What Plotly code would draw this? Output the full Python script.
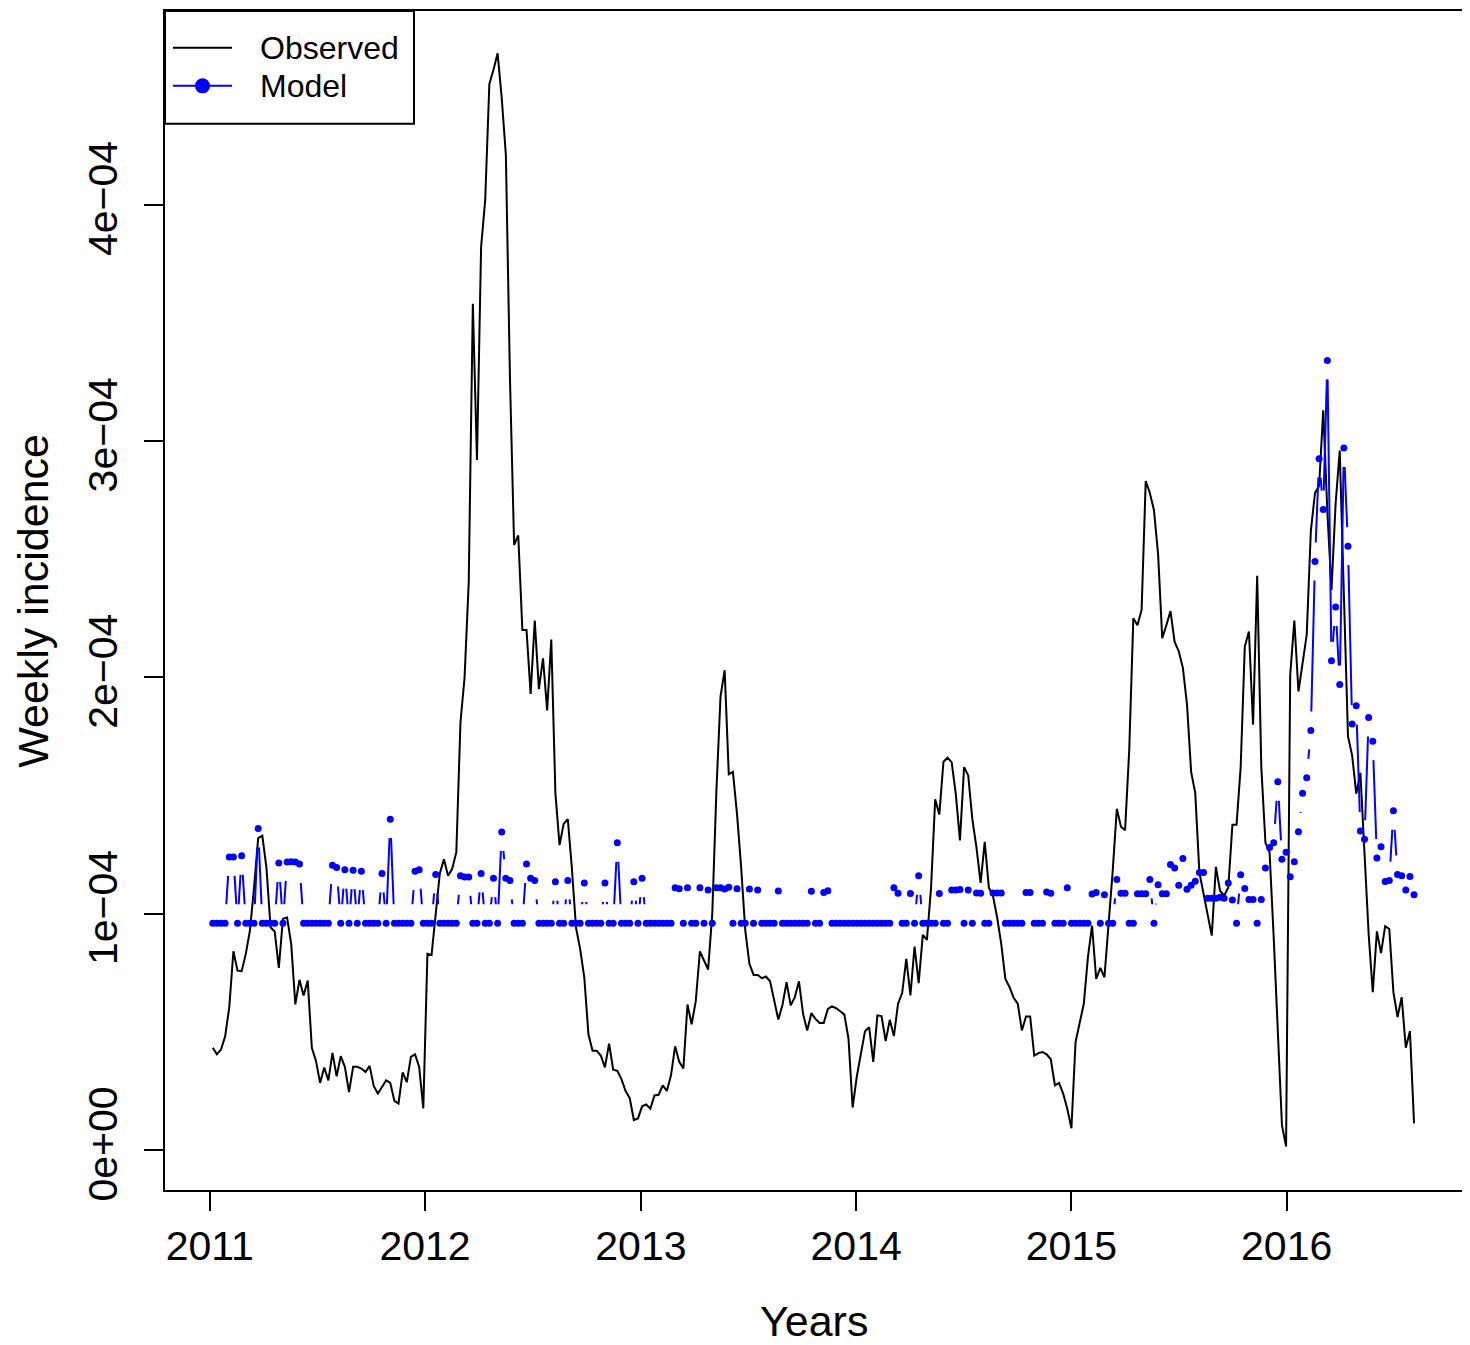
import pandas as pd
import plotly.graph_objects as go

# weekly incidence in units of 1e-5, first week 2011-01-06
start_week = '2011-01-06'
unit = 1e-5

observed = [
    4.33, 4.05, 4.25, 4.81, 6.05, 8.41, 7.59, 7.57, 8.3, 9.28,
    11.1, 13.2, 13.3, 11.95, 9.42, 9.25, 7.71, 9.79, 9.84, 8.72,
    6.16, 7.2, 6.54, 7.17, 4.33, 3.77, 2.84, 3.49, 2.95, 4.11,
    3.12, 3.97, 3.52, 2.45, 3.52, 3.52, 3.45, 3.3, 3.56, 2.7,
    2.39, 2.7, 2.95, 2.84, 2.08, 1.97, 3.29, 2.87, 3.94, 4.05,
    3.52, 1.76,
    8.3, 8.25, 10.1, 11.7, 12.3, 11.6, 11.9, 12.6, 18.1, 20.0,
    24.0, 35.8, 29.2, 38.2, 40.2, 45.1, 45.7, 46.4, 44.5, 42.1,
    32.6, 25.6, 26.0, 22.0, 22.0, 19.3, 22.4, 19.5, 20.8, 18.6,
    21.6, 15.1, 12.9, 13.8, 14.0, 11.9, 9.4, 8.5, 7.3, 4.9,
    4.2, 4.2, 4.0, 3.5, 4.5, 3.4, 3.35, 3.0, 2.5, 2.2,
    1.27,
    1.34, 1.85, 1.93, 1.75, 2.31, 2.34, 2.74, 2.5, 3.16, 4.39,
    3.73, 3.45, 6.16, 5.32, 6.3, 8.4, 8.02, 7.64, 9.99, 15.2,
    19.2, 20.3, 15.9, 16.0, 14.2, 11.95, 9.28, 7.88, 7.41, 7.41,
    7.27, 7.34, 7.14, 6.33, 5.52, 6.14, 7.1, 6.12, 6.47, 7.14,
    5.76, 5.06, 5.79, 5.55, 5.38, 5.38, 5.97, 6.08, 6.0, 5.87,
    5.73, 4.71, 1.8, 3.1, 4.0,
    5.03, 5.2, 3.73, 5.7, 5.67, 4.61, 5.51, 4.82, 6.19, 6.64,
    8.09, 6.54, 8.61, 7.06, 9.1, 8.89, 11.1, 14.84, 14.2, 16.43,
    16.6, 16.4, 15.05, 13.1, 16.2, 15.85, 14.0, 12.8, 11.3, 13.04,
    11.1, 10.76, 9.85, 8.72, 7.24, 6.9, 6.44, 6.19, 5.06, 5.65,
    5.65, 4.0, 4.1, 4.15, 4.05, 3.84, 2.74, 2.84, 2.39, 1.75,
    0.92, 4.57,
    5.35, 6.19, 8.16, 9.49, 7.24, 7.71, 7.31, 9.49, 11.8, 14.44,
    13.68, 13.53, 16.9, 22.5, 22.2, 22.85, 28.3, 27.8, 27.07, 25.2,
    21.66, 22.2, 22.8, 21.5, 21.1, 20.4, 18.85, 16.0, 15.1, 11.74,
    10.83, 9.99, 9.07, 11.98, 10.97, 10.76, 11.11, 13.76, 13.76, 16.2,
    21.3, 21.94, 18.0, 24.3, 16.2, 13.0, 12.59,
    9.0, 4.9, 1.05, 0.15, 20.1, 22.4, 19.4, 20.6, 21.8, 26.2,
    27.8, 28.1, 31.3, 27.0, 23.7, 27.35, 29.6, 23.5, 17.5, 16.7,
    15.08, 15.96, 12.7, 9.14, 6.68, 9.25, 8.33, 9.47, 9.35, 6.68,
    5.63, 6.47, 4.33, 5.03, 1.13,
]

B = 9.6  # model floor value
model = [
    B, B, B, B, 12.4, 12.4, B, 12.45, B, B,
    B, 13.6, B, B, B, B, 12.14, B, 12.19, 12.2,
    12.19, 12.1, B, B, B, B, B, B, B, 12.05,
    11.95, B, 11.86, B, 11.84, B, 11.8, B, B, B,
    B, 11.7, B, 14.0, B, B, B, B, B, 11.8,
    11.86, B, B, B, 11.66, B, B, B, B, B,
    11.6, 11.55, 11.55, B, B, 11.7, B, B, 11.5, B,
    13.46, 11.5, 11.4, B, B, B, 12.1, 11.5, 11.4, B,
    B, B, B, 11.35, B, B, 11.4, B, B, B,
    11.3, B, B, B, B, 11.3, B, B, 13.0, B,
    B, B, 11.35, B, 11.5, B, B, B, B, B,
    B, B, 11.1, 11.05, B, 11.1, B, B, 11.1, B,
    11.0, B, 11.1, 11.1, 11.04, 11.12, B, 11.06, B, B,
    11.04, B, 11.0, B, B, B, B, 10.96, B, B,
    B, B, B, B, B, 10.95, B, B, 10.9, 10.97,
    B, B, B, B, B, B, B, B, B, B,
    B, B, B, B, B, 11.1, 10.86, B, B, 10.85,
    B, 11.6, B, B, B, B, 10.85, B, B, 11.0,
    11.0, 11.02, B, 11.0, B, 10.87, 10.86, B, B, 10.87,
    10.87, 10.87, B, B, B, B, B, 10.9, 10.9, B,
    B, B, 10.92, 10.86, B, B, B, 11.1, B, B,
    B, B, B, 10.83, 10.9, B, 10.8, B, B, 11.45,
    10.86, 10.86, B, B, 10.84, 10.84, 10.84, 11.45, B, 11.22,
    10.84, 10.84, 12.08, 11.93, 11.2, 12.33, 11.03, 11.2, 11.37, 11.74,
    11.74, 10.65, 10.65, 10.65, 10.7, 10.65, 11.3, 10.58, B, 11.65,
    11.07, 10.6, 10.6, B, 10.6, 11.93, 12.8, 13.0, 15.58, 12.3,
    12.6, 11.56, 12.2, 13.47, 15.1, 15.75, 17.75, 24.9, 29.25, 27.1,
    33.4, 20.7, 22.97, 19.7, 29.7, 25.55, 18.03, 18.8, 13.5, 13.15,
    18.3, 17.3, 12.36, 12.83, 11.36, 11.4, 14.35, 11.66, 11.6, 11.0,
    11.57, 10.8,
]

year_ticks = ['2011', '2012', '2013', '2014', '2015', '2016']
y_tickvals = [0, 1e-4, 2e-4, 3e-4, 4e-4]
y_ticktext = ['0e+00', '1e\u221204', '2e\u221204', '3e\u221204', '4e\u221204']
legend_names = ['Observed', 'Model']

weeks = pd.date_range(start_week, periods=len(observed), freq='7D')
obs_y = [v * unit for v in observed]
mod_y = [v * unit for v in model]

# page body has an 8px margin, so the figure is a bit smaller than the window
W, H = 1462, 1337
margin = dict(l=157, r=7, t=1, b=155)
x_range = [pd.Timestamp('2010-10-17'), pd.Timestamp('2016-10-26')]
y_range = [-1.69e-5, 48.19e-5]
FONT = 'Liberation Sans, Arial, Helvetica, sans-serif'
plot_w = W - margin['l'] - margin['r']
plot_h = H - margin['t'] - margin['b']


def gapped_line(dates, values, gap_px=19):
    # mimic R type="b": line segments stop short of each point
    day = pd.Timedelta(days=1)
    px_day = plot_w / ((x_range[1] - x_range[0]) / day)
    px_unit = plot_h / (y_range[1] - y_range[0])
    xs, ys = [], []
    for i in range(len(values) - 1):
        d0, d1 = dates[i], dates[i + 1]
        v0, v1 = values[i], values[i + 1]
        ddays = (d1 - d0) / day
        dx = ddays * px_day
        dy = (v1 - v0) * px_unit
        L = (dx ** 2 + dy ** 2) ** 0.5
        if L <= 2 * gap_px:
            continue
        f = gap_px / L
        xs += [d0 + day * (ddays * f), d0 + day * (ddays * (1 - f)), None]
        ys += [v0 + (v1 - v0) * f, v0 + (v1 - v0) * (1 - f), None]
    return xs, ys


fig = go.Figure()

fig.add_trace(go.Scatter(x=weeks, y=obs_y, mode='lines', name=legend_names[0],
                         showlegend=False, line=dict(color='black', width=2)))
gx, gy = gapped_line(weeks, mod_y)
fig.add_trace(go.Scatter(x=gx, y=gy, mode='lines', showlegend=False,
                         line=dict(color='#0000ff', width=2)))
fig.add_trace(go.Scatter(x=weeks, y=mod_y, mode='markers', name=legend_names[1],
                         showlegend=False, marker=dict(color='#0000ff', size=7)))

axis_common = dict(showgrid=False, zeroline=False, showline=True, mirror=True,
                   linecolor='black', linewidth=2, ticks='outside', ticklen=19,
                   tickwidth=2, tickcolor='black',
                   tickfont=dict(family=FONT, size=41, color='black'))

fig.update_xaxes(type='date', range=x_range,
                 tickvals=[pd.Timestamp(y + '-01-01') for y in year_ticks],
                 ticktext=year_ticks, **axis_common)
fig.update_yaxes(range=y_range, tickvals=y_tickvals, ticktext=y_ticktext,
                 tickangle=-90, ticklabelstandoff=11, **axis_common)

fig.add_annotation(text='Years', xref='paper', yref='paper', x=0.5, y=-0.1109,
                   showarrow=False, xanchor='center', yanchor='middle',
                   font=dict(family=FONT, size=43, color='black'))
fig.add_annotation(text='Weekly incidence', xref='paper', yref='paper', x=-0.1022, y=0.5,
                   showarrow=False, xanchor='center', yanchor='middle', textangle=-90,
                   font=dict(family=FONT, size=43, color='black'))

# legend box in the top-left corner, drawn like R's legend()
def px_x(p):
    return (p - 165) / plot_w


def px_y(p):
    return (1190 - p) / plot_h


fig.add_shape(type='rect', xref='paper', yref='paper', x0=0, x1=px_x(414), y0=px_y(122), y1=1,
              line=dict(color='black', width=2), fillcolor='white', layer='above')
fig.add_shape(type='line', xref='paper', yref='paper', x0=px_x(173), x1=px_x(232),
              y0=px_y(45.7), y1=px_y(45.7), line=dict(color='black', width=2), layer='above')
fig.add_shape(type='line', xref='paper', yref='paper', x0=px_x(173), x1=px_x(232),
              y0=px_y(84), y1=px_y(84), line=dict(color='#0000ff', width=2), layer='above')
fig.add_shape(type='circle', xref='paper', yref='paper', xsizemode='pixel', ysizemode='pixel',
              xanchor=px_x(202.5), yanchor=px_y(84), x0=-7.5, x1=7.5, y0=-7.5, y1=7.5,
              line=dict(color='#0000ff', width=0), fillcolor='#0000ff', layer='above')
for name, yy in zip(legend_names, [45.7, 84]):
    fig.add_annotation(text=name, xref='paper', yref='paper', x=px_x(258), y=px_y(yy),
                       showarrow=False, xanchor='left', yanchor='middle',
                       font=dict(family=FONT, size=32, color='black'))

fig.update_layout(
    width=W, height=H, margin=margin, showlegend=False,
    paper_bgcolor='white', plot_bgcolor='white',
    font=dict(family=FONT, color='black'),
)

fig.write_html('out.html')
